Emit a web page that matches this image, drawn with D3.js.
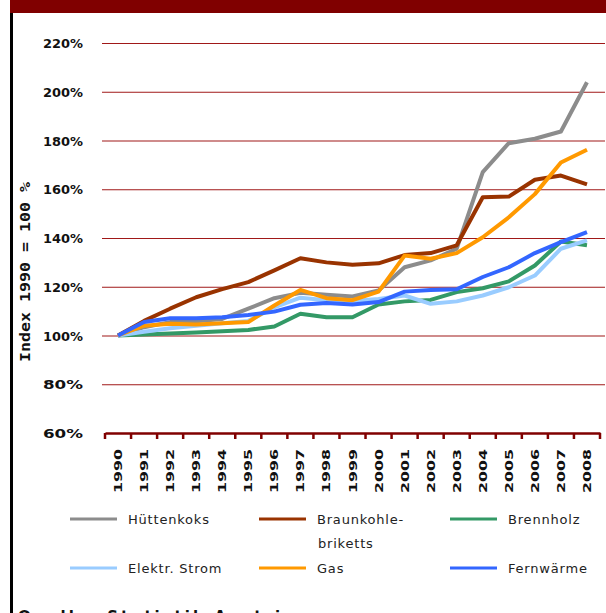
<!DOCTYPE html>
<html>
<head>
<meta charset="utf-8">
<script src="https://cdn.jsdelivr.net/npm/d3@7"></script>
<style>
  html, body { margin: 0; padding: 0; background: #fff; }
  svg { display: block; }
</style>
</head>
<body>
<svg id="chart" width="606" height="613"></svg>
<script>
// Jahre (Kategorien)
const years = ["1990","1991","1992","1993","1994","1995","1996","1997","1998","1999",
               "2000","2001","2002","2003","2004","2005","2006","2007","2008"];

// Index 1990 = 100 %
const huettenkoks = [100,103.4,105.5,105.8,106.8,111,115.3,117.5,116.7,116,118.5,128,130.8,135.6,167,178.9,180.7,183.7,203.9];
const braunkohle  = [100,106,111,115.7,119,121.9,126.7,131.7,130,129,129.6,133,133.8,137,156.7,157,163.9,165.6,162];
const brennholz   = [100,100.4,100.8,101.2,101.7,102.3,103.7,108.9,107.5,107.5,112.7,114,114.6,117.8,119.4,122.2,128.7,138.6,137];
const strom       = [100,101.5,103,104,105,106,111.5,115.5,114.5,114.2,115,116.4,113,114,116.4,119.8,124.6,135.6,139];
const gas         = [100,104,104.8,104.5,105,105.5,112.3,118.7,115.3,114.5,118,132.8,131.5,133.8,140.3,148.5,158,171,176.2];
const fernwaerme  = [100,105.5,107.1,107.1,107.5,108.4,109.8,112.6,113.3,112.7,113.7,118,118.7,119,124,128,133.8,138.3,142.4];

const yTicks = [60,80,100,120,140,160,180,200,220];

const seriesNames  = ["Hüttenkoks","Braunkohle-","Brennholz","Elektr. Strom","Gas","Fernwärme"];
const seriesColors = ["#8c8c8c","#993300","#339966","#99ccff","#ff9900","#3366ff"];
const seriesValues = [huettenkoks, braunkohle, brennholz, strom, gas, fernwaerme];

const svg = d3.select("#chart");

// Kopfbalken und linke Randlinie
svg.append("rect").attr("x",10).attr("y",0).attr("width",596).attr("height",13).attr("fill","#800000");
svg.append("rect").attr("x",10).attr("y",13).attr("width",3).attr("height",600).attr("fill","#000");

const x = d3.scaleBand().domain(years).range([105, 600]).padding(0);
const y = d3.scaleLinear().domain([60, 220]).range([433, 43]);
const cx = d => x(d) + x.bandwidth() / 2;

// Gitterlinien
svg.append("g").selectAll("line").data(yTicks.filter(t => t > 60)).join("line")
  .attr("x1", 102).attr("x2", 605)
  .attr("y1", d => y(d) + 0.5).attr("y2", d => y(d) + 0.5)
  .attr("stroke", "#a01818").attr("stroke-width", 1.2);

// y-Beschriftung
svg.append("g").selectAll("text").data(yTicks).join("text")
  .attr("x", 83).attr("y", d => y(d) + 5)
  .attr("text-anchor", "end")
  .attr("font-family", "DejaVu Sans").attr("font-weight", "bold").attr("font-size", 13)
  .attr("textLength", 40).attr("lengthAdjust", "spacingAndGlyphs")
  .attr("fill", "#111")
  .text(d => d + "%");

// y-Achsentitel
svg.append("text")
  .attr("transform", "translate(30,272) rotate(-90)")
  .attr("text-anchor", "middle")
  .attr("font-family", "DejaVu Sans Mono").attr("font-weight", "bold").attr("font-size", 14)
  .attr("textLength", 180).attr("lengthAdjust", "spacingAndGlyphs")
  .attr("fill", "#111")
  .text("Index 1990 = 100 %");

// x-Achse
const xAxis = d3.axisBottom(x).tickValues([]).tickSizeOuter(0);
const gx = svg.append("g").attr("transform", "translate(0,433)").call(xAxis);
gx.select(".domain").attr("stroke", "#800000").attr("stroke-width", 2.5);
svg.append("g").selectAll("line").data(years.concat(["end"])).join("line")
  .attr("x1", (d, i) => 105 + i * x.bandwidth()).attr("x2", (d, i) => 105 + i * x.bandwidth())
  .attr("y1", 433).attr("y2", 439)
  .attr("stroke", "#800000").attr("stroke-width", 2.5);

// Jahreszahlen
svg.append("g").selectAll("text").data(years).join("text")
  .attr("transform", d => `translate(${cx(d) + 4},493) rotate(-90)`)
  .attr("text-anchor", "start")
  .attr("font-family", "DejaVu Sans").attr("font-weight", "bold").attr("font-size", 11)
  .attr("textLength", 44).attr("lengthAdjust", "spacingAndGlyphs")
  .attr("fill", "#111")
  .text(d => d);

// Linien
const line = d3.line().x((d, i) => cx(years[i])).y(d => y(d));
svg.append("g").selectAll("path").data(seriesValues).join("path")
  .attr("d", d => line(d))
  .attr("fill", "none")
  .attr("stroke", (d, i) => seriesColors[i])
  .attr("stroke-width", 4)
  .attr("stroke-linejoin", "round");

// Legende
const legendPos = [
  [70, 519], [259, 519], [450, 519],
  [70, 568], [259, 568], [450, 568]
];
const lg = svg.append("g").selectAll("g").data(seriesNames).join("g")
  .attr("transform", (d, i) => `translate(${legendPos[i][0]},${legendPos[i][1]})`);
lg.append("line").attr("x1", 0).attr("x2", 47).attr("y1", 0).attr("y2", 0)
  .attr("stroke", (d, i) => seriesColors[i]).attr("stroke-width", 3);
lg.append("text").attr("x", 58).attr("y", 5)
  .attr("font-family", "DejaVu Sans").attr("font-size", 13).attr("letter-spacing", 0.8)
  .attr("fill", "#222")
  .text(d => d);
svg.append("text").attr("x", 318).attr("y", 548)
  .attr("font-family", "DejaVu Sans").attr("font-size", 13).attr("letter-spacing", 0.8)
  .attr("fill", "#222")
  .text("briketts");

// Quellenangabe (am unteren Rand angeschnitten)
svg.append("text").attr("x", 18).attr("y", 622)
  .attr("font-family", "DejaVu Sans").attr("font-weight", "bold").attr("font-size", 15)
  .attr("letter-spacing", 3)
  .attr("fill", "#111")
  .text("Quelle: Statistik Austria");
</script>
</body>
</html>
